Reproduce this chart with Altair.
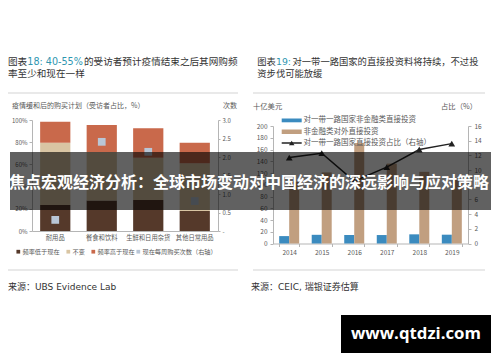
import altair as alt
import pandas as pd

CJK = "Noto Sans CJK SC"
MIX = "DejaVu Sans, Noto Sans CJK SC"

# ---------------- Left chart (图表18) ----------------
left_title_parts = ["图表", "18: 40-55%", "的受访者预计疫情结束之后其网购频"]
left_title_line2 = "率至少和现在一样"
left_axis_caption = "疫情缓和后的购买计划（受访者占比，%）"
left_right_caption = "次数"
left_categories = ["耐用品", "餐食和饮料", "生鲜和日用杂货", "其他日常用品"]
left_series = ["频率低于现在", "不变", "频率高于现在"]
lower_than_now = [0.235, 0.275, 0.28, 0.18]
unchanged = [0.56, 0.435, 0.38, 0.43]
higher_than_now = [0.19, 0.245, 0.265, 0.185]
weekly_purchases = [0.30, 2.41, 2.14, 0.81]
left_marker_label = "现在每周购买次数（右轴）"
left_pct_ticks = [0, 0.2, 0.4, 0.6, 0.8, 1.0]
left_count_ticks = [0, 0.5, 1.0, 1.5, 2.0, 2.5, 3.0]
left_source = "来源：UBS Evidence Lab"

# ---------------- Right chart (图表19) ----------------
right_title_parts = ["图表", "19:", "对一带一路国家的直接投资料将持续，不过投"]
right_title_line2 = "资步伐可能放缓"
right_axis_caption = "十亿美元"
right_right_caption = "占比（%）"
years = ["2014", "2015", "2016", "2017", "2018", "2019"]
right_series = ["对一带一路国家非金融类直接投资", "非金融类对外直接投资"]
bri_nonfin_fdi = [12.6, 14.8, 14.5, 14.4, 15.6, 15.0]
nonfin_ofdi = [105, 121, 171, 136, 122, 108]
bri_share = [11.7, 12.3, 8.5, 10.4, 12.8, 13.6]
right_line_label = "对一带一路国家直接投资占比（右轴）"
right_amount_ticks = [0, 20, 40, 60, 80, 100, 120, 140, 160, 180, 200]
right_share_ticks = [0, 2, 4, 6, 8, 10, 12, 14, 16]
right_source = "来源：CEIC, 瑞银证券估算"

banner_text = "焦点宏观经济分析：全球市场变动对中国经济的深远影响与应对策略"
watermark_text = "www.qtdzi.com"

# ---------------- styles ----------------
LEFT_COLORS = ["#55392a", "#d9c5a3", "#c9694b"]
MARKER_COLOR = "#b9c6d6"
RIGHT_COLORS = ["#3b8bbf", "#c19f80"]
LINE_COLOR = "#222222"
TEAL = "#2e96b0"
AX = dict(labelFont=CJK, labelColor="#595959", domainColor="#b5b5b5",
          tickColor="#b5b5b5", grid=False, title=None)

dummy = pd.DataFrame({"d": [0]})


def txt(s, x, y, size, color="#333333", align="left", weight="normal", font=CJK):
    return alt.Chart(pd.DataFrame({"t": [s]})).mark_text(
        align=align, baseline="middle", fontSize=size, color=color,
        font=font, fontWeight=weight
    ).encode(x=alt.value(x), y=alt.value(y), text="t:N")


def hline(x1, x2, y, color, width):
    return alt.Chart(dummy).mark_rule(color=color, strokeWidth=width).encode(
        x=alt.value(x1), x2=alt.value(x2), y=alt.value(y))


def box(x1, x2, y1, y2, color, opacity=1.0):
    return alt.Chart(dummy).mark_rect(color=color, opacity=opacity).encode(
        x=alt.value(x1), x2=alt.value(x2), y=alt.value(y1), y2=alt.value(y2))


def sym(x, y, color, size, shape="square"):
    return alt.Chart(dummy).mark_point(shape=shape, filled=True, color=color,
                                       size=size, opacity=1).encode(
        x=alt.value(x), y=alt.value(y))


# ---------------- left chart layers ----------------
left_df = pd.DataFrame({
    "category": left_categories * 3,
    "series": [s for s in left_series for _ in left_categories],
    "value": lower_than_now + unchanged + higher_than_now,
    "order": [i for i in range(3) for _ in left_categories],
})
marker_df = pd.DataFrame({"category": left_categories, "weekly": weekly_purchases})


def left_x(axis):
    return alt.X("category:N", sort=left_categories, axis=axis,
                 scale=alt.Scale(domain=left_categories, range=[24, 210],
                                 paddingInner=0.35, paddingOuter=0.175))


left_bars = alt.Chart(left_df).mark_bar().encode(
    x=left_x(alt.Axis(orient="bottom", offset=-123, labelAngle=0, labelFontSize=6.3,
                      ticks=False, labelPadding=3, **AX)),
    y=alt.Y("value:Q", stack="zero",
            scale=alt.Scale(domain=[0, 1], range=[223, 112], nice=False),
            axis=alt.Axis(orient="left", offset=-24, values=left_pct_ticks, format=".0%",
                          labelFontSize=6, tickSize=3, labelPadding=2, **AX)),
    color=alt.Color("series:N", scale=alt.Scale(domain=left_series, range=LEFT_COLORS),
                    legend=None),
    order=alt.Order("order:Q"),
)

left_markers = alt.Chart(marker_df).mark_point(
    shape="square", filled=True, size=60, color=MARKER_COLOR, opacity=1
).encode(
    x=left_x(None),
    y=alt.Y("weekly:Q", scale=alt.Scale(domain=[0, 3], range=[223, 112], nice=False),
            axis=alt.Axis(orient="right", offset=-274, values=left_count_ticks,
                          labelExpr="datum.value == 0 ? '-' : format(datum.value, '.1f')",
                          labelFontSize=6, tickSize=2, labelPadding=2, **AX)),
)

# ---------------- right chart layers ----------------
right_df = pd.DataFrame({
    "year": years * 2,
    "series": [s for s in right_series for _ in years],
    "value": bri_nonfin_fdi + nonfin_ofdi,
})
share_df = pd.DataFrame({"year": years, "share": bri_share})


def right_x(axis):
    return alt.X("year:N", sort=years, axis=axis,
                 scale=alt.Scale(domain=years, range=[265, 460],
                                 paddingInner=0.385, paddingOuter=0.19))


right_bars = alt.Chart(right_df).mark_bar().encode(
    x=right_x(alt.Axis(orient="bottom", offset=-110.5, labelAngle=0, labelFontSize=6.5,
                       tickBand="extent", tickSize=3, labelPadding=3, **AX)),
    xOffset=alt.XOffset("series:N", sort=right_series,
                        scale=alt.Scale(domain=right_series)),
    y=alt.Y("value:Q", scale=alt.Scale(domain=[0, 200], range=[235.5, 118], nice=False),
            axis=alt.Axis(orient="left", offset=-265, values=right_amount_ticks,
                          labelFontSize=6.5, tickSize=3, labelPadding=3, **AX)),
    color=alt.Color("series:N", scale=alt.Scale(domain=right_series, range=RIGHT_COLORS),
                    legend=None),
)

share_y = alt.Scale(domain=[0, 16], range=[235.5, 118], nice=False)
right_line = alt.Chart(share_df).mark_line(color=LINE_COLOR, strokeWidth=1.5).encode(
    x=right_x(None),
    y=alt.Y("share:Q", scale=share_y,
            axis=alt.Axis(orient="right", offset=-24, values=right_share_ticks,
                          labelFontSize=6.5, tickSize=3, labelPadding=3, **AX)),
)
right_points = alt.Chart(share_df).mark_point(
    shape="triangle-up", filled=True, size=45, color=LINE_COLOR, opacity=1
).encode(x=right_x(None), y=alt.Y("share:Q", scale=share_y, axis=None))

# ---------------- decorations ----------------
deco = [
    # titles
    txt(left_title_parts[0], 0, 53.7, 9.6, "#333333"),
    txt(left_title_parts[1], 19.3, 53.7, 9.6, TEAL, font="DejaVu Sans"),
    txt(left_title_parts[2], 76, 53.7, 9.6, "#333333"),
    txt(left_title_line2, 0, 66, 9.6, "#333333"),
    txt(right_title_parts[0], 249.3, 53.7, 9.3, "#333333"),
    txt(right_title_parts[1], 268, 53.7, 9.3, TEAL, font="DejaVu Sans"),
    txt(right_title_parts[2], 284.5, 53.7, 9.3, "#333333"),
    txt(right_title_line2, 249.3, 66, 9.3, "#333333"),
    hline(0, 230, 85, "#e2e2e2", 1.5),
    hline(245, 477, 85, "#e2e2e2", 1.5),
    # captions
    txt(left_axis_caption, 4, 98, 7, "#595959"),
    txt(left_right_caption, 229, 98, 7, "#595959", align="right"),
    txt(right_axis_caption, 245, 98.5, 7.3, "#595959"),
    txt(right_right_caption, 469, 98.5, 7.3, "#595959", align="right"),
    # left legend
    sym(10.3, 243.7, LEFT_COLORS[0], 14),
    txt(left_series[0], 14.5, 243.7, 6.2, "#595959"),
    sym(60.3, 243.7, LEFT_COLORS[1], 14),
    txt(left_series[1], 64.5, 243.7, 6.2, "#595959"),
    sym(85.3, 243.7, LEFT_COLORS[2], 14),
    txt(left_series[2], 89.5, 243.7, 6.2, "#595959"),
    sym(130.3, 243.7, MARKER_COLOR, 14),
    txt(left_marker_label, 134.5, 243.7, 6.2, "#595959"),
    # right legend
    box(273.7, 293.7, 110.5, 114.3, RIGHT_COLORS[0]),
    txt(right_series[0], 295.5, 112.3, 7.5, "#595959"),
    box(273.7, 293.7, 121.5, 126, RIGHT_COLORS[1]),
    txt(right_series[1], 295.5, 123.7, 7.5, "#595959"),
    hline(273.7, 293.7, 135, LINE_COLOR, 1.5),
    sym(283.7, 135, LINE_COLOR, 30, "triangle-up"),
    txt(right_line_label, 295.5, 135, 7.5, "#595959"),
    # bottom dividers & sources
    hline(0, 230, 262, "#e2e2e2", 1.5),
    hline(245, 477, 262, "#e2e2e2", 1.5),
    txt(left_source, 0, 279, 9, "#333333", font=MIX),
    txt(right_source, 243, 279, 9, "#333333", font=MIX),
    # banner overlay
    box(2, 483, 144, 202, "#000000", 0.62),
    txt(banner_text, 241, 174.5, 16, "#ffffff", align="center", weight="bold"),
    # watermark
    box(333, 483, 307, 345, "#000000"),
    txt(watermark_text, 408, 326, 16.8, "#ffffff", align="center", weight="bold",
        font="Open Sans"),
]

chart = alt.layer(
    left_bars, left_markers, right_bars, right_line, right_points, *deco
).resolve_scale(
    x="independent", y="independent", color="independent"
).properties(
    width=484, height=346, autosize=alt.AutoSizeParams(type="none"), padding=0,
    background="#ffffff"
).configure_view(stroke=None)

chart.save("out.html", embed_options={"renderer": "svg", "actions": False})
